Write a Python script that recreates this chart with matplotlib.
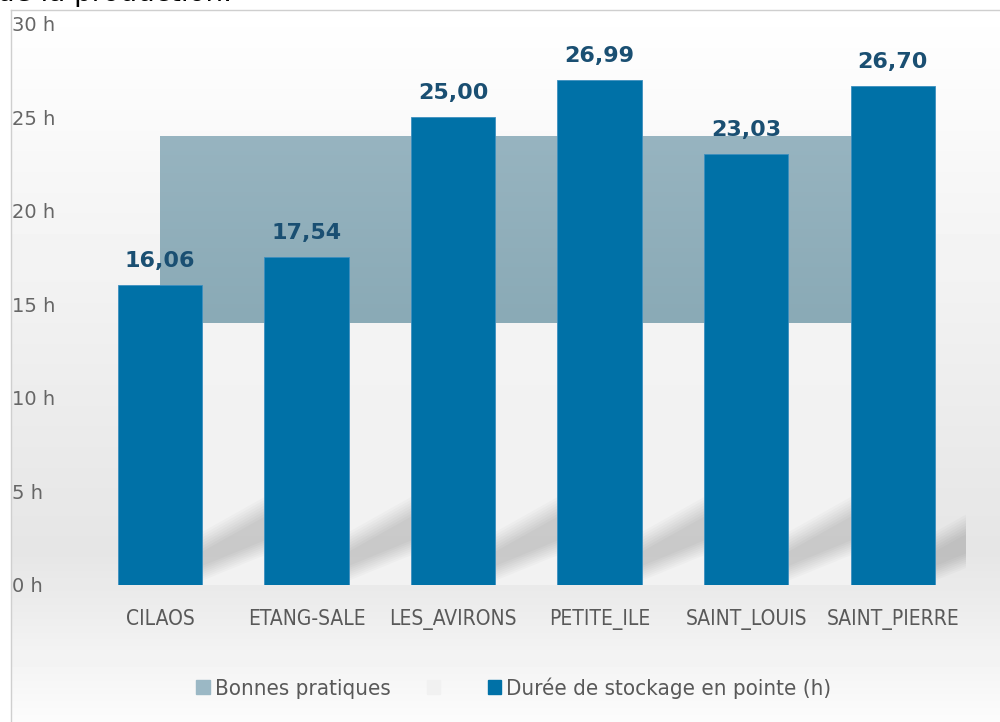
import numpy as np
import matplotlib as mpl
mpl.use('Agg')
import matplotlib.pyplot as plt
from matplotlib.patches import Rectangle, Polygon

# data
sites = ["CILAOS", "ETANG-SALE", "LES_AVIRONS", "PETITE_ILE", "SAINT_LOUIS", "SAINT_PIERRE"]
duree = [16.06, 17.54, 25.00, 26.99, 23.03, 26.70]
bp_low = [14, 14, 14, 14, 14, 14]
bp_high = [24, 24, 24, 24, 24, 24]
yticks = [0, 5, 10, 15, 20, 25, 30]

BAR = "#0071a7"
BAND = "#8eacb9"
LABEL = "#1a4f72"
GREY = "#595959"

plt.rcParams['font.family'] = ['DejaVu Sans']
plt.rcParams['font.stretch'] = 'condensed'

fig = plt.figure(figsize=(10, 7.22), dpi=100)

# background gradient (figure-wide)
bg = fig.add_axes([0, 0, 1, 1], zorder=-10)
g = np.concatenate([np.linspace(1.0, 0.90, 80), np.linspace(0.90, 0.985, 25)])
bg.imshow(g[:, None], cmap='gray', vmin=0, vmax=1, aspect='auto',
          extent=[0, 1, 0, 1], origin='upper')
bg.set_xlim(0, 1)
bg.set_ylim(0, 1)
bg.add_patch(Rectangle((0, 0), 0.01, 1, color='white', zorder=3))
bg.add_patch(Rectangle((0, 0.986), 1, 0.02, color='white', zorder=3))
bg.plot([0.011, 0.011], [0, 0.986], color='#cfcfcf', lw=1, zorder=4)
bg.plot([0.011, 1], [0.986, 0.986], color='#cfcfcf', lw=1, zorder=4)
bg.axis('off')

ax = fig.add_axes([0.0867, 0.1898, 0.8793, 0.777])
ax.patch.set_alpha(0)
x = np.arange(len(sites))

# blank stacked area (0 -> 14) and good practice band (14 -> 24)
ax.fill_between(x, 0, bp_low, color='#f4f4f4', alpha=0.85, lw=0, zorder=1)
band = ax.fill_between(x, bp_low, bp_high, color=BAND, lw=0, zorder=1)
grad = np.linspace(0.0, 1.0, 50)[:, None]
cm = mpl.colors.LinearSegmentedColormap.from_list('b', ['#97b4c0', '#8aaab6'])
im = ax.imshow(grad, cmap=cm, aspect='auto', extent=[x[0], x[-1], 14, 24],
               origin='upper', zorder=1.5)
im.set_clip_path(band.get_paths()[0], transform=ax.transData)

# soft diagonal shadows behind bars
for i in range(len(sites)):
    for k in range(8):
        d = 0.25 * k
        poly = Polygon([(i + 0.28, 0.2 + d * 0.45), (i + 0.28, 2.8 - d * 0.6),
                        (i + 0.78, 5.0 - d * 0.6), (i + 0.78, 1.8 + d * 0.45)],
                       closed=True, color='black', alpha=0.02, lw=0, zorder=2)
        ax.add_patch(poly)

bars = ax.bar(x, duree, width=0.575, color=BAR, edgecolor='#3d8fbf', lw=0.6, zorder=3)
for xi, v in zip(x, duree):
    ax.text(xi, v + 0.75, f"{v:.2f}".replace('.', ','), ha='center', va='bottom',
            fontsize=16, fontweight='bold', color=LABEL, fontstretch='normal', zorder=4)

ax.set_xlim(-0.5, len(sites) - 0.5)
ax.set_ylim(0, 30)
ax.set_yticks(yticks)
ax.set_yticklabels([f"{t} h" for t in yticks], ha='left', fontstretch='normal',
                   fontsize=14, color='#666666')
ax.set_xticks(x)
ax.set_xticklabels(sites, fontsize=15, color=GREY)
ax.tick_params(axis='both', length=0)
ax.tick_params(axis='y', pad=54)
ax.tick_params(axis='x', pad=17)
for s in ax.spines.values():
    s.set_visible(False)

# legend
handles = [Rectangle((0, 0), 1, 1, color='#9bb8c5'),
           Rectangle((0, 0), 1, 1, color='#f1f1f1'),
           Rectangle((0, 0), 1, 1, color=BAR)]
labels = ["Bonnes pratiques", " ", "Durée de stockage en pointe (h)"]
leg = fig.legend(handles, labels, loc='center', bbox_to_anchor=(0.514, 0.047), ncol=3,
                 frameon=False, fontsize=16, handlelength=0.6, handleheight=0.6,
                 handletextpad=0.25, columnspacing=1.6, labelcolor=GREY)

fig.text(-0.003, 0.999, "de la production.", fontsize=20, color='black', va='baseline',
         fontstretch='normal')

fig.savefig("out.png", dpi=100)
